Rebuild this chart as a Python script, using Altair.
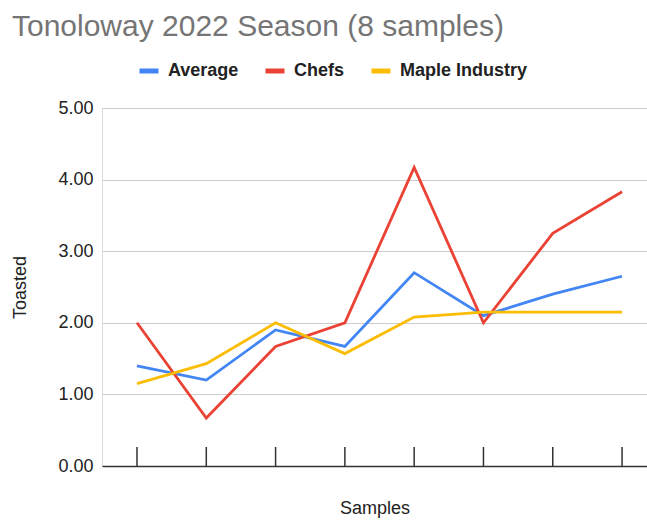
import altair as alt
import pandas as pd

samples = [1, 2, 3, 4, 5, 6, 7, 8]
average = [1.40, 1.20, 1.90, 1.67, 2.70, 2.10, 2.40, 2.65]
chefs = [2.00, 0.67, 1.67, 2.00, 4.17, 2.00, 3.25, 3.83]
maple = [1.15, 1.43, 2.00, 1.57, 2.08, 2.15, 2.15, 2.15]
series_names = ["Average", "Chefs", "Maple Industry"]
series_colors = ["#4285F4", "#EA4335", "#FBBC04"]
y_ticks = [0, 1, 2, 3, 4, 5]

rows = []
for name, vals in zip(series_names, [average, chefs, maple]):
    for s, v in zip(samples, vals):
        rows.append({"sample": s, "value": v, "series": name})
df = pd.DataFrame(rows)
tick_df = pd.DataFrame({"sample": samples})

FONT = "Liberation Sans"
xscale = alt.Scale(domain=[0.495, 8.36], nice=False, zero=False)

lines = alt.Chart(df).mark_line(strokeWidth=2.8).encode(
    x=alt.X("sample:Q", scale=xscale,
            axis=alt.Axis(title="Samples", labels=False, ticks=False, grid=False,
                          domain=True, domainColor="#333333", domainWidth=1.5,
                          titleFont=FONT, titleFontSize=18, titleFontWeight="normal",
                          titleColor="#222222", titlePadding=33)),
    y=alt.Y("value:Q", scale=alt.Scale(domain=[0, 5], nice=False),
            axis=alt.Axis(title="Toasted", values=y_ticks, format=".2f",
                          domain=False, ticks=False, grid=True, gridColor="#cccccc",
                          gridWidth=1, labelFont=FONT, labelFontSize=18,
                          labelColor="#222222", labelPadding=9,
                          titleFont=FONT, titleFontSize=18, titleFontWeight="normal",
                          titleColor="#222222", titlePadding=28)),
    color=alt.Color("series:N",
                    scale=alt.Scale(domain=series_names, range=series_colors),
                    legend=alt.Legend(title=None, orient="none", legendX=35, legendY=-49,
                                      direction="horizontal", symbolType="stroke",
                                      symbolStrokeWidth=5, symbolSize=361,
                                      labelFont=FONT, labelFontSize=18,
                                      labelFontWeight="bold", labelColor="#222222",
                                      labelOffset=7, columnPadding=16, padding=0)),
    detail="series:N",
)

ticks = alt.Chart(tick_df).mark_rule(color="#333333", strokeWidth=1.5).encode(
    x=alt.X("sample:Q", scale=xscale),
    y=alt.value(339),
    y2=alt.value(358),
)

chart = alt.layer(ticks, lines).properties(
    width=545,
    height=358,
    autosize=alt.AutoSizeParams(type="none"),
    padding={"left": 102, "top": 108, "right": 0, "bottom": 55},
    title=alt.TitleParams("Tonoloway 2022 Season (8 samples)", anchor="start",
                          font=FONT, fontSize=30, fontWeight="normal",
                          color="#757575", offset=17),
).configure_view(stroke=None).configure(background="white")

chart.save("out.html", embed_options={"renderer": "svg", "actions": False})
